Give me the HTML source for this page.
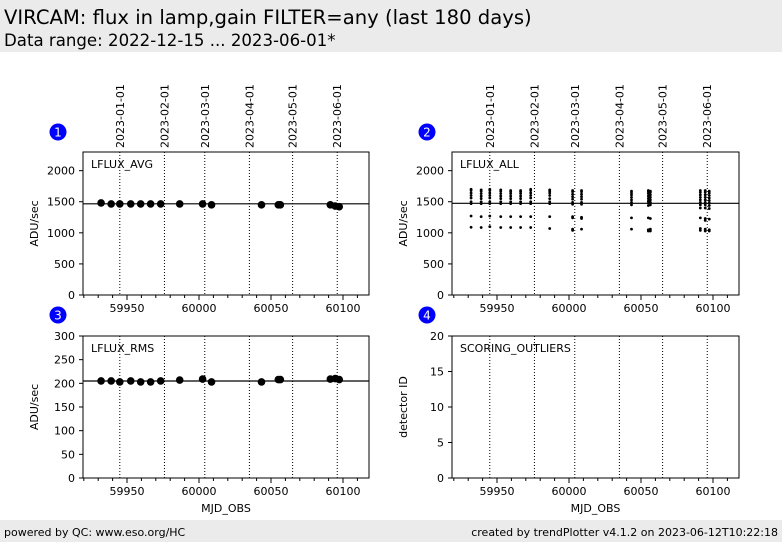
<!DOCTYPE html>
<html><head><meta charset="utf-8"><style>
body{margin:0;width:782px;height:542px;background:#fff;font-family:"DejaVu Sans","Liberation Sans",sans-serif;overflow:hidden}
svg{display:block}
</style></head><body>
<svg id="chart" width="782" height="542" xmlns="http://www.w3.org/2000/svg" font-family="DejaVu Sans, Liberation Sans, sans-serif">
<rect x="0" y="0" width="782" height="52" fill="#ebebeb"/>
<text x="4" y="24" font-size="19.6">VIRCAM: flux in lamp,gain FILTER=any (last 180 days)</text>
<text x="4" y="46" font-size="16.6">Data range: 2022-12-15 ... 2023-06-01*</text>
<rect x="0" y="520" width="782" height="22" fill="#ebebeb"/>
<text x="4" y="536" font-size="11">powered by QC: www.eso.org/HC</text>
<text x="778" y="536" font-size="11" text-anchor="end">created by trendPlotter v4.1.2 on 2023-06-12T10:22:18</text>
<g id="plots"></g>
</svg>
<script>
const dateLabels=["2023-01-01","2023-02-01","2023-03-01","2023-04-01","2023-05-01","2023-06-01"];
const dateMjd=[59945,59976,60004,60035,60065,60096];
const obsMjd=[59932,59939,59945,59952.6,59959.5,59966.4,59973.4,59986.6,60002.5,60008.7,60043.4,60055.1,60056.5,60091.2,60094.6,60097.4];
const avgVals=[1480,1465,1465,1465,1465,1465,1465,1465,1465,1450,1450,1450,1450,1450,1430,1420];
const rmsVals=[205,205,203,205,203,203,205,207,209,203,203,208,208,209,210,208];
const allVals=[
[1700,1680,1640,1600,1560,1500,1470,1270,1090],
[1690,1670,1630,1590,1550,1500,1470,1260,1085],
[1700,1680,1640,1600,1560,1500,1470,1270,1100],
[1690,1670,1630,1590,1550,1500,1470,1260,1085],
[1680,1660,1630,1590,1550,1500,1470,1260,1085],
[1680,1660,1630,1590,1550,1500,1470,1260,1085],
[1700,1680,1640,1600,1560,1500,1470,1260,1085],
[1690,1670,1640,1600,1550,1500,1470,1260,1070],
[1680,1660,1620,1580,1540,1490,1460,1260,1240,1060,1040],
[1680,1660,1620,1580,1540,1490,1460,1250,1230,1060],
[1670,1640,1610,1570,1530,1490,1450,1240,1060],
[1680,1660,1630,1590,1550,1510,1480,1440,1240,1050,1030],
[1670,1650,1610,1570,1530,1490,1450,1230,1060,1030],
[1680,1650,1610,1570,1530,1490,1450,1400,1240,1070,1040],
[1680,1650,1610,1570,1530,1490,1450,1400,1230,1200,1060,1030],
[1670,1640,1600,1560,1520,1480,1440,1390,1220,1050,1030]];
const xTicks=[59950,60000,60050,60100];
const ticksFlux=[0,500,1000,1500,2000];
const ticksRms=[0,50,100,150,200,250,300];
const ticksDet=[0,5,10,15,20];

const NS="http://www.w3.org/2000/svg";
const root=document.getElementById('plots');
function el(tag,attrs,parent,text){const e=document.createElementNS(NS,tag);for(const k in attrs)e.setAttribute(k,attrs[k]);if(text!==undefined)e.textContent=text;(parent||root).appendChild(e);return e;}

function panel(cfg){
  const g=el('g',{});
  
  
  const x=m=>cfg.x0+(m-cfg.xRef)*1.44;
  const y=v=>cfg.y1-(v/cfg.yMax)*(cfg.y1-cfg.y0);
  const b=el('g',{},g);
  
  
  el('circle',{cx:cfg.bx,cy:cfg.by,r:8.5,fill:'#0000ff'},b);
  el('text',{x:cfg.bx,y:cfg.by+4.5,'font-size':12,fill:'#fff','text-anchor':'middle'},b,cfg.num);
  dateMjd.forEach((d,i)=>{
    const l=el('line',{x1:x(d),x2:x(d),y1:cfg.y0,y2:cfg.y1,stroke:'#000','stroke-width':1,'stroke-dasharray':'1,2'},g);
    
    
    if(cfg.dates){
      const t=el('text',{transform:`translate(${x(d)+4},148) rotate(-90)`,'font-size':11},g,dateLabels[i]);
      
      
    }
  });
  const f=el('rect',{x:cfg.xl,y:cfg.y0,width:cfg.xr-cfg.xl,height:cfg.y1-cfg.y0,fill:'none',stroke:'#000','stroke-width':1},g);
  
  
  for(let m=59920;m<=60110;m+=10){
    const major=xTicks.includes(m);
    el('line',{x1:x(m),x2:x(m),y1:cfg.y1,y2:cfg.y1+(major?5:3),stroke:'#000'},g);
  }
  xTicks.forEach(t=>{
    const tl=el('text',{x:x(t),y:cfg.y1+17,'font-size':11,'text-anchor':'middle'},g,String(t));
    
    
  });
  if(cfg.xTitle){
    const xt=el('text',{x:(cfg.xl+cfg.xr)/2,y:cfg.y1+34,'font-size':11,'text-anchor':'middle'},g,'MJD_OBS');
    
    
  }
  cfg.yTicks.forEach(t=>{
    el('line',{x1:cfg.xl-4,x2:cfg.xl,y1:y(t),y2:y(t),stroke:'#000'},g);
    const tl=el('text',{x:cfg.xl-8,y:y(t)+4,'font-size':11,'text-anchor':'end'},g,String(t));
    
    
  });
  const yt=el('text',{transform:`translate(${cfg.xl-45},${(cfg.y0+cfg.y1)/2}) rotate(-90)`,'font-size':11,'text-anchor':'middle'},g,cfg.yTitle);
  
  
  const lab=el('text',{x:cfg.xl+8,y:cfg.y0+16,'font-size':11},g,cfg.label);
  
  
  if(cfg.ref!==undefined){
    const rl=el('line',{x1:cfg.xl,x2:cfg.xr,y1:y(cfg.ref),y2:y(cfg.ref),stroke:'#000','stroke-width':1.2},g);
    
    
  }
  if(cfg.vals){
    cfg.vals.forEach((v,i)=>{
      const c=el('circle',{cx:x(obsMjd[i]),cy:y(v),r:3.8,fill:'#000'},g);
      
      
    });
  }
  if(cfg.multi){
    cfg.multi.forEach((arr,i)=>arr.forEach(v=>{
      const c=el('circle',{cx:x(obsMjd[i]),cy:y(v),r:1.4,fill:'#000'},g);
      
      
    }));
  }
}
panel({name:'lflux-avg-panel',num:'1',bx:58,by:132,x0:127,xRef:59950,xl:83,xr:369,y0:152,y1:295,yMax:2300,yTicks:ticksFlux,yTitle:'ADU/sec',label:'LFLUX_AVG',ref:1467,vals:avgVals,dates:true});
panel({name:'lflux-all-panel',num:'2',bx:427,by:132,x0:497,xRef:59950,xl:452,xr:739,y0:152,y1:295,yMax:2300,yTicks:ticksFlux,yTitle:'ADU/sec',label:'LFLUX_ALL',ref:1475,multi:allVals,dates:true});
panel({name:'lflux-rms-panel',num:'3',bx:58,by:315,x0:127,xRef:59950,xl:83,xr:369,y0:336,y1:478,yMax:300,yTicks:ticksRms,yTitle:'ADU/sec',label:'LFLUX_RMS',ref:205,vals:rmsVals,xTitle:true});
panel({name:'scoring-outliers-panel',num:'4',bx:427,by:315,x0:497,xRef:59950,xl:452,xr:739,y0:336,y1:478,yMax:20,yTicks:ticksDet,yTitle:'detector ID',label:'SCORING_OUTLIERS',xTitle:true});
</script>
</body></html>
